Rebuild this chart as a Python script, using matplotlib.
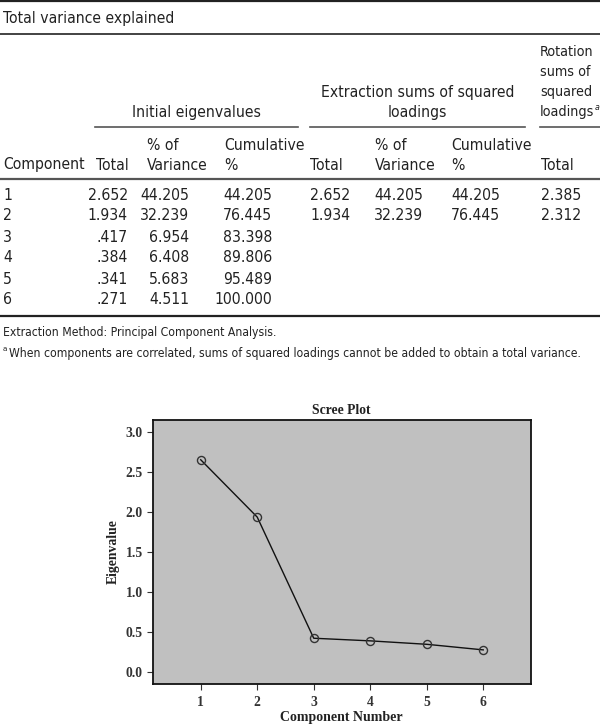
import matplotlib
matplotlib.use('Agg')
import matplotlib.pyplot as plt
from matplotlib.lines import Line2D
from matplotlib.ticker import FormatStrFormatter
from matplotlib import font_manager

# table values (Total variance explained)
components = [1, 2, 3, 4, 5, 6]
init_total = [2.652, 1.934, 0.417, 0.384, 0.341, 0.271]
init_pct = [44.205, 32.239, 6.954, 6.408, 5.683, 4.511]
init_cum = [44.205, 76.445, 83.398, 89.806, 95.489, 100.000]
extr_total = [2.652, 1.934]
extr_pct = [44.205, 32.239]
extr_cum = [44.205, 76.445]
rot_total = [2.385, 2.312]

y_ticks = [0.0, 0.5, 1.0, 1.5, 2.0, 2.5, 3.0]

NOTE1 = 'Extraction Method: Principal Component Analysis.'
NOTE2 = ('When components are correlated, sums of squared loadings cannot be '
         'added to obtain a total variance.')

W, H = 600, 725
SERIF = ['Liberation Serif', 'DejaVu Serif']

# pick the narrowest sans we have
fonts = font_manager.fontManager.ttflist
names = {f.name for f in fonts}
STRETCH = 'normal'
if 'Liberation Sans Narrow' in names:
    SANS = ['Liberation Sans Narrow', 'DejaVu Sans']
elif any(f.name == 'DejaVu Sans' and 'Condensed' in f.fname for f in fonts):
    SANS = ['DejaVu Sans']
    STRETCH = 'condensed'
elif 'Roboto Condensed' in names:
    SANS = ['Roboto Condensed', 'DejaVu Sans']
else:
    SANS = ['Roboto', 'DejaVu Sans']


def fx(x):
    return x / W


def fy(y):
    return 1 - y / H


def fmt(v):
    s = f"{v:.3f}"
    return s[1:] if s.startswith('0.') else s


fig = plt.figure(figsize=(W / 100, H / 100), dpi=100)
renderer = fig.canvas.get_renderer()


def fit_size(s, width, base=12):
    t = fig.text(0, 0, s, fontsize=base, family=SANS, fontstretch=STRETCH)
    w = t.get_window_extent(renderer).width
    t.remove()
    return min(base * 1.05, base * width / w)


BODY = fit_size('Component', 82)
ROT = min(BODY, fit_size('loadings', 54))
NOTE = min(fit_size(NOTE1, 292), fit_size(NOTE2, 568))


def txt(x, y, s, ha='left', size=None, color='#222222', **kw):
    return fig.text(fx(x), fy(y), s, ha=ha, va='center', fontsize=size or BODY,
                    family=SANS, fontstretch=STRETCH, color=color, **kw)


def rule(x0, x1, y, lw=1.0, color='#222222'):
    fig.add_artist(Line2D([fx(x0), fx(x1)], [fy(y), fy(y)], lw=lw, color=color,
                          transform=fig.transFigure))


# rules
rule(0, 600, 0.8, lw=1.6)
rule(0, 600, 34, lw=1.2)
rule(95, 298, 127, lw=1.2, color='#555555')
rule(310, 525, 127, lw=1.2, color='#555555')
rule(540, 600, 127, lw=1.2, color='#555555')
rule(0, 600, 179, lw=1.6, color='#555555')
rule(0, 600, 316, lw=1.6)

txt(3, 18, 'Total variance explained')

# group headers
txt(196.5, 112, 'Initial eigenvalues', ha='center')
txt(417.5, 92, 'Extraction sums of squared', ha='center')
txt(417.5, 112, 'loadings', ha='center')
for i, s in enumerate(['Rotation', 'sums of', 'squared']):
    txt(540, 52 + 20 * i, s, size=ROT)
t_load = txt(540, 112, 'loadings', size=ROT)
bb = t_load.get_window_extent(renderer)
fig.text(bb.x1 / W + 0.0005, fy(107), 'a', ha='left', va='center', fontsize=BODY * 0.5,
         family=SANS, style='italic', color='#222222')

# column headers
txt(3, 165, 'Component')
for x in [96, 310]:
    txt(x, 165, 'Total')
for x in [147, 375]:
    txt(x, 145, '% of')
    txt(x, 165, 'Variance')
for x in [224, 451]:
    txt(x, 145, 'Cumulative')
    txt(x, 165, '%')
txt(541, 165, 'Total')

# body
for i, c in enumerate(components):
    y = 195 + 21 * i
    txt(3, y, str(c))
    txt(128, y, fmt(init_total[i]), ha='right')
    txt(189, y, fmt(init_pct[i]), ha='right')
    txt(272, y, fmt(init_cum[i]), ha='right')
for i in range(len(extr_total)):
    y = 195 + 21 * i
    txt(310, y, fmt(extr_total[i]))
    txt(374, y, fmt(extr_pct[i]))
    txt(451, y, fmt(extr_cum[i]))
    txt(541, y, fmt(rot_total[i]))

txt(3, 333, NOTE1, size=NOTE)
fig.text(fx(3), fy(349), 'a', ha='left', va='center', fontsize=NOTE * 0.6,
         family=SANS, color='#222222')
txt(9, 353, NOTE2, size=NOTE)

# scree plot
ax = fig.add_axes([fx(152.7), fy(684.3), (530.7 - 152.7) / W, (684.3 - 420) / H])
ax.set_facecolor('#c0c0c0')
ax.plot(components, init_total, color='#111111', lw=1.0, marker='o', ms=5.8,
        mfc='none', mec='#333333', mew=1.0)
ax.set_xlim(0.15, 6.84)
ax.set_ylim(-0.16, 3.15)
ax.set_xticks(components)
ax.set_yticks(y_ticks)
ax.yaxis.set_major_formatter(FormatStrFormatter('%.1f'))
ax.tick_params(direction='out', length=4.5, width=0.8, color='#333333',
               labelsize=9.8, labelcolor='#333333')
ax.tick_params(axis='x', pad=4)
ax.tick_params(axis='y', pad=2.5)
for lab in ax.get_xticklabels() + ax.get_yticklabels():
    lab.set_family(SERIF)
    lab.set_fontweight('bold')
for sp in ax.spines.values():
    sp.set_linewidth(1.3)
    sp.set_color('#111111')

fig.text(fx(341.7), fy(410.7), 'Scree Plot', ha='center', va='center',
         fontsize=9.8, family=SERIF, fontweight='bold', color='#222222')
fig.text(fx(341.7), fy(717), 'Component Number', ha='center', va='center',
         fontsize=10, family=SERIF, fontweight='bold', color='#222222')
fig.text(fx(113), fy(552), 'Eigenvalue', ha='center', va='center', rotation=90,
         fontsize=9.8, family=SERIF, fontweight='bold', color='#222222')

fig.savefig('out.png', dpi=100)
